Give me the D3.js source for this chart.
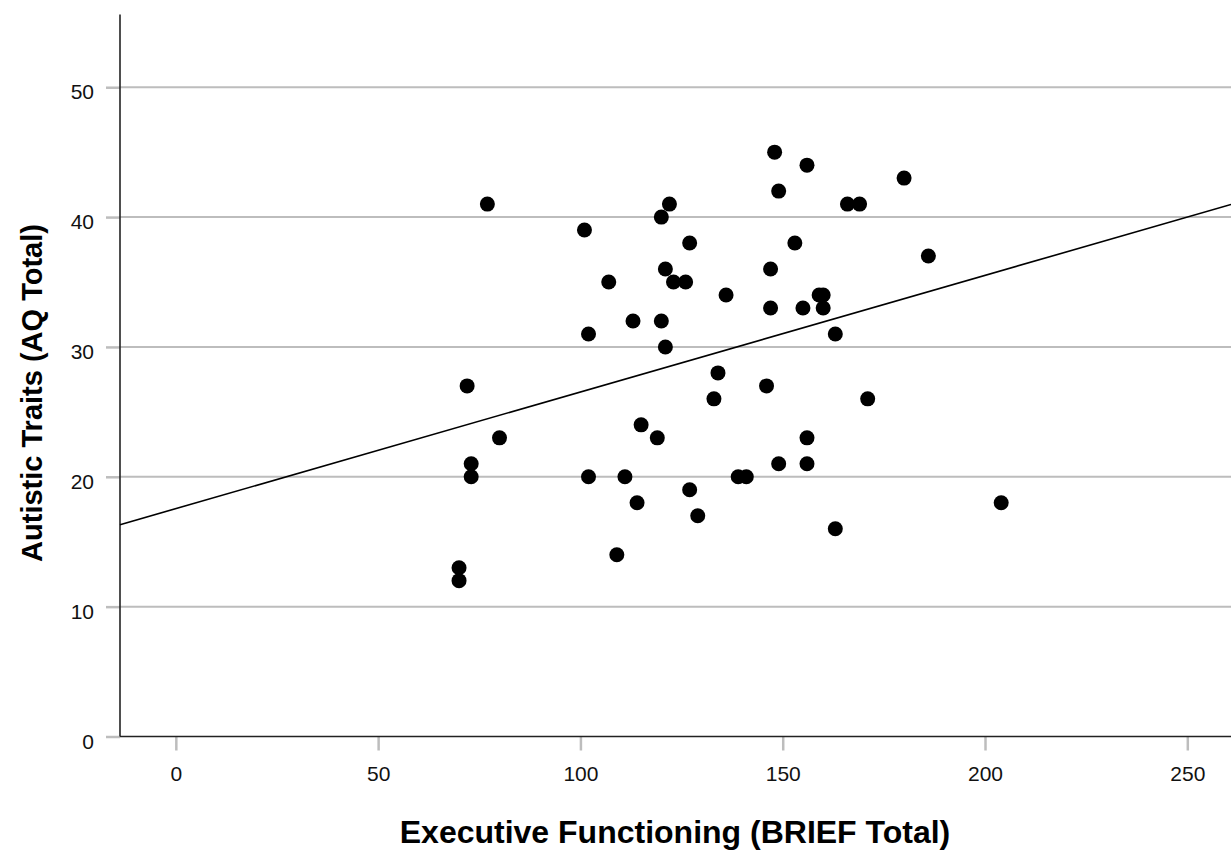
<!DOCTYPE html>
<html>
<head>
<meta charset="utf-8">
<script src="https://cdn.jsdelivr.net/npm/d3@7"></script>
<style>
  html, body { margin: 0; padding: 0; background: #fff; }
  svg { display: block; }
  text { font-family: "Liberation Sans", Arial, Helvetica, sans-serif; }
</style>
</head>
<body>
<svg id="chart" width="1231" height="850"></svg>
<script>
// ---- data ----
const briefTotal = [70, 70, 72, 73, 73, 77, 80, 101, 102, 102, 107, 109, 111, 113, 114, 115, 119, 120, 120, 121, 121, 122, 123, 126, 127, 127, 129, 133, 134, 136, 139, 141, 146, 147, 147, 148, 149, 149, 153, 155, 156, 156, 156, 159, 160, 160, 163, 163, 166, 169, 171, 180, 186, 204];
const aqTotal    = [13, 12, 27, 21, 20, 41, 23, 39, 31, 20, 35, 14, 20, 32, 18, 24, 23, 40, 32, 36, 30, 41, 35, 35, 38, 19, 17, 26, 28, 34, 20, 20, 27, 36, 33, 45, 42, 21, 38, 33, 44, 23, 21, 34, 34, 33, 31, 16, 41, 41, 26, 43, 37, 18];
const xTicks = [0, 50, 100, 150, 200, 250];
const yTicks = [0, 10, 20, 30, 40, 50];
const xDomain = [-13.8, 260.8];
const yDomain = [0, 55.6];
const fitIntercept = 17.55;
const fitSlope = 0.0898;
const xTitle = "Executive Functioning (BRIEF Total)";
const yTitle = "Autistic Traits (AQ Total)";

// ---- layout ----
const svg = d3.select("#chart");
const mLeft = 120, mRight = 1231, mTop = 14.5, mBottom = 736.5;
const x = d3.scaleLinear().domain(xDomain).range([mLeft, mRight]);
const y = d3.scaleLinear().domain(yDomain).range([mBottom, mTop]);

// gridlines
svg.append("g")
  .selectAll("line")
  .data(yTicks.filter(t => t !== 0))
  .join("line")
  .attr("x1", mLeft).attr("x2", mRight)
  .attr("y1", d => y(d)).attr("y2", d => y(d))
  .attr("stroke", "#bdbdbd").attr("stroke-width", 2);

// y axis
const yAxis = svg.append("g")
  .attr("transform", `translate(${mLeft},0)`)
  .call(d3.axisLeft(y).tickValues(yTicks).tickSize(14).tickPadding(12).tickFormat(d3.format("d")));
yAxis.select(".domain").remove();
yAxis.selectAll(".tick line").attr("stroke", "#bdbdbd").attr("stroke-width", 2.5);
yAxis.selectAll(".tick text")
  .attr("font-size", 21).attr("fill", "#111")
  .attr("dy", "0.55em");

// x axis
const xAxis = svg.append("g")
  .attr("transform", `translate(0,${mBottom})`)
  .call(d3.axisBottom(x).tickValues(xTicks).tickSize(14).tickPadding(16).tickFormat(d3.format("d")));
xAxis.select(".domain").remove();
xAxis.selectAll(".tick line").attr("stroke", "#bdbdbd").attr("stroke-width", 2.5);
xAxis.selectAll(".tick text")
  .attr("font-size", 21).attr("fill", "#111");

// axis lines
svg.append("line")
  .attr("x1", mLeft).attr("x2", mLeft).attr("y1", mTop).attr("y2", mBottom)
  .attr("stroke", "#222").attr("stroke-width", 1.6);
svg.append("line")
  .attr("x1", mLeft).attr("x2", mRight).attr("y1", mBottom).attr("y2", mBottom)
  .attr("stroke", "#222").attr("stroke-width", 1.6);

// fit line
svg.append("line")
  .attr("x1", x(xDomain[0])).attr("y1", y(fitIntercept + fitSlope * xDomain[0]))
  .attr("x2", x(xDomain[1])).attr("y2", y(fitIntercept + fitSlope * xDomain[1]))
  .attr("stroke", "#000").attr("stroke-width", 1.6);

// points
svg.append("g")
  .selectAll("circle")
  .data(briefTotal.map((b, i) => ({ b, a: aqTotal[i] })))
  .join("circle")
  .attr("cx", d => x(d.b))
  .attr("cy", d => y(d.a))
  .attr("r", 7.5)
  .attr("fill", "#000");

// titles
svg.append("text")
  .attr("x", 675).attr("y", 843)
  .attr("text-anchor", "middle")
  .attr("font-size", 32).attr("font-weight", "bold").attr("fill", "#000")
  .text(xTitle);
svg.append("text")
  .attr("transform", "translate(42,393) rotate(-90)")
  .attr("text-anchor", "middle")
  .attr("font-size", 29).attr("font-weight", "bold").attr("fill", "#000")
  .text(yTitle);
</script>
</body>
</html>
